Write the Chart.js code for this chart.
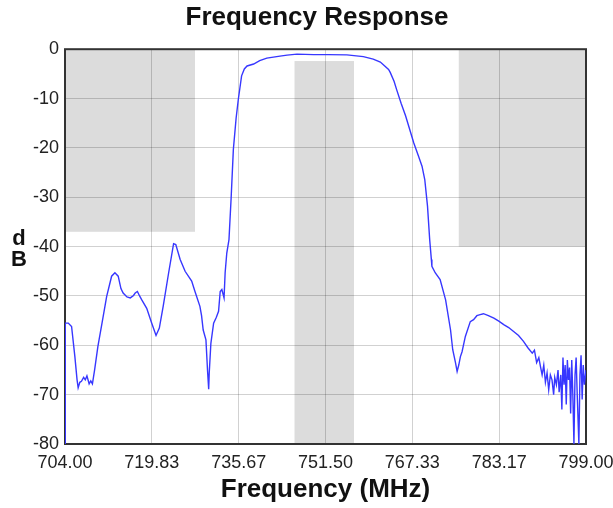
<!DOCTYPE html>
<html>
<head>
<meta charset="utf-8">
<script src="https://cdn.jsdelivr.net/npm/chart.js@4.4.0/dist/chart.umd.min.js"></script>
<style>
  html, body { margin: 0; padding: 0; background: #fff; }
  #wrap { width: 613px; height: 508px; }
</style>
</head>
<body>
<div id="wrap"><canvas id="chartFreq"></canvas></div>
<script>
// frequency axis (MHz) and measured response (dB)
const freqs = [
  704.00, 704.05, 704.6, 705.2, 705.8, 706.2, 706.4, 706.7, 707.0, 707.4,
  707.7, 708.0, 708.4, 708.7, 709.0, 709.4, 710.0, 710.7, 711.6, 712.5,
  713.1, 713.7, 714.2, 714.6, 715.3, 715.9, 716.5, 716.8, 717.2, 717.6,
  718.0, 718.9, 719.8, 720.6, 721.2, 721.9, 722.9, 723.8, 724.2, 725.0,
  725.9, 727.1, 727.7, 728.6, 728.9, 729.2, 729.7, 730.0, 730.2, 730.3,
  730.6, 731.1, 731.6, 732.0, 732.3, 732.6, 733.0, 733.2, 733.5, 733.9,
  734.3, 734.7, 735.2, 735.6, 736.2, 736.7, 737.2, 738.4, 739.5, 740.8,
  743.2, 744.5, 746.3, 749.3, 752.0, 755.4, 758.4, 760.2, 761.5, 763.0,
  763.3, 764.0, 764.5, 765.3, 766.1, 767.6, 768.4, 769.1, 769.6, 770.1,
  770.5, 770.8, 770.9, 771.5, 772.4, 773.4, 774.3, 774.7, 775.2, 775.5,
  775.8, 776.1, 776.4, 777.0, 777.9, 778.5, 779.1, 779.7, 780.3, 781.2,
  782.2, 783.1, 784.0, 784.9, 785.8, 786.7, 787.6, 788.4, 789.2, 789.6,
  790.0, 790.4, 790.7, 791.0, 791.3, 791.6, 791.9, 792.2, 792.5, 792.8,
  793.1, 793.3, 793.6, 793.9, 794.1, 794.4, 794.6, 794.8, 795.0, 795.2,
  795.4, 795.6, 795.8, 796.0, 796.2, 796.4, 796.6, 796.8, 797.0, 797.2,
  797.4, 797.7, 797.9, 798.1, 798.3, 798.5, 798.7, 799.0
]
const dbs = [
  -80, -55.5, -55.5, -56.2, -62.3, -67, -68.6, -67.5, -67.3, -66.5,
  -67, -66.2, -67.8, -67.2, -67.8, -65, -60.2, -55.8, -50.1, -46,
  -45.3, -46, -48.5, -49.4, -50.2, -50.4, -49.9, -49.4, -49.1, -50,
  -50.8, -52.5, -55.5, -58, -56.5, -52.1, -45.3, -39.4, -39.6, -42.6,
  -45, -47, -49.1, -52.1, -54, -56.9, -58.9, -65.3, -68.9, -65.6,
  -59.6, -55.5, -54.3, -53.1, -49.1, -48.7, -50.4, -45.3, -41.3, -38.6,
  -30, -20.3, -14, -10.2, -5.4, -4, -3.4, -3.0, -2.3, -1.8,
  -1.4, -1.2, -1.0, -1.1, -1.1, -1.15, -1.5, -2, -2.6, -4.1,
  -4.7, -6.5, -8.3, -11, -13.5, -19, -21.5, -23.7, -26.4, -31.8,
  -38.6, -42.6, -44, -45.3, -46.7, -50.8, -56.9, -60.9, -63.5, -65.3,
  -64, -62.3, -61.3, -58.2, -55.2, -54.8, -54, -53.8, -53.6, -54,
  -54.5, -55.1, -55.8, -56.4, -57.2, -58, -59.2, -60.5, -61.6, -61,
  -63.5, -62.5, -64.3, -66, -64, -67.5, -65.6, -69, -66, -67,
  -70, -66.5, -68, -65, -69.5, -66, -73, -62.5, -68, -64,
  -72, -63, -67, -64.5, -73.8, -63, -70, -80, -66, -62.5,
  -70, -80, -66, -62, -71, -64, -68, -65
]
const xTicks = [704.00, 719.83, 735.67, 751.50, 767.33, 783.17, 799.00]

// spec mask regions (gray)
const maskStart = [704, 745.85, 775.8]
const maskEnd = [727.7, 756.7, 799]
const maskTop = [0, -2.4, 0]
const maskBottom = [-37, -80, -40]

const FONT = '"Liberation Sans", Arial, sans-serif'

const maskPlugin = {
    id: 'mask',
    beforeDraw(chart) {
        const { ctx, scales: { x, y } } = chart
        ctx.save()
        ctx.fillStyle = '#dcdcdc'
        for (let i = 0; i < maskStart.length; i++) {
            const x0 = x.getPixelForValue(maskStart[i])
            const x1 = x.getPixelForValue(maskEnd[i])
            const y0 = y.getPixelForValue(maskTop[i])
            const y1 = y.getPixelForValue(maskBottom[i])
            ctx.fillRect(x0, y0, x1 - x0, y1 - y0)
        }
        ctx.restore()
    },
    beforeDatasetsDraw(chart) {
        const { ctx, chartArea: a } = chart
        ctx.save()
        ctx.strokeStyle = '#333'
        ctx.lineWidth = 2
        ctx.strokeRect(a.left, a.top, a.right - a.left, a.bottom - a.top)
        ctx.restore()
    },
    afterDraw(chart) {
        // stacked "dB" axis label
        const { ctx, chartArea: a } = chart
        const mid = (a.top + a.bottom) / 2
        ctx.save()
        ctx.fillStyle = '#111'
        ctx.font = 'bold 22px ' + FONT
        ctx.textAlign = 'center'
        ctx.textBaseline = 'middle'
        ctx.fillText('d', 19, mid - 8)
        ctx.fillText('B', 19, mid + 13)
        ctx.restore()
    }
}

new Chart(document.getElementById('chartFreq'), {
    type: 'line',
    data: {
        datasets: [{
            label: 'Response',
            data: freqs.map((f, i) => ({ x: f, y: dbs[i] })),
            borderColor: 'rgb(55,55,255)',
            borderWidth: 1.4,
            pointRadius: 0,
            tension: 0
        }]
    },
    options: {
        responsive: true,
        maintainAspectRatio: false,
        animation: false,
        layout: { padding: { left: 21, right: 0, top: 0, bottom: 3 } },
        plugins: {
            legend: { display: false },
            tooltip: { enabled: false },
            title: {
                display: true,
                text: 'Frequency Response',
                color: '#111',
                font: { family: FONT, size: 26, weight: 'bold' },
                padding: { top: 2, bottom: 16 }
            }
        },
        scales: {
            x: {
                type: 'linear',
                min: 704,
                max: 799,
                afterBuildTicks: (s) => { s.ticks = xTicks.map(v => ({ value: v })) },
                afterFit: (s) => {
                    s.height = 61
                    s.paddingLeft = 0
                    s.paddingRight = 27
                },
                ticks: {
                    color: '#222',
                    padding: 8,
                    maxRotation: 0,
                    font: { family: FONT, size: 18 },
                    callback: (v) => Number(v).toFixed(2)
                },
                grid: { color: 'rgba(0,0,0,0.18)', drawTicks: false },
                border: { display: false },
                title: {
                    display: true,
                    text: 'Frequency (MHz)',
                    color: '#111',
                    padding: { top: 0, bottom: 0 },
                    font: { family: FONT, size: 26, weight: 'bold' }
                }
            },
            y: {
                min: -80,
                max: 0,
                afterFit: (s) => { s.width = 44 },
                ticks: {
                    stepSize: 10,
                    color: '#222',
                    padding: 6,
                    font: { family: FONT, size: 18 }
                },
                grid: { color: 'rgba(0,0,0,0.18)', drawTicks: false },
                border: { display: false }
            }
        }
    },
    plugins: [maskPlugin]
})
</script>
</body>
</html>
